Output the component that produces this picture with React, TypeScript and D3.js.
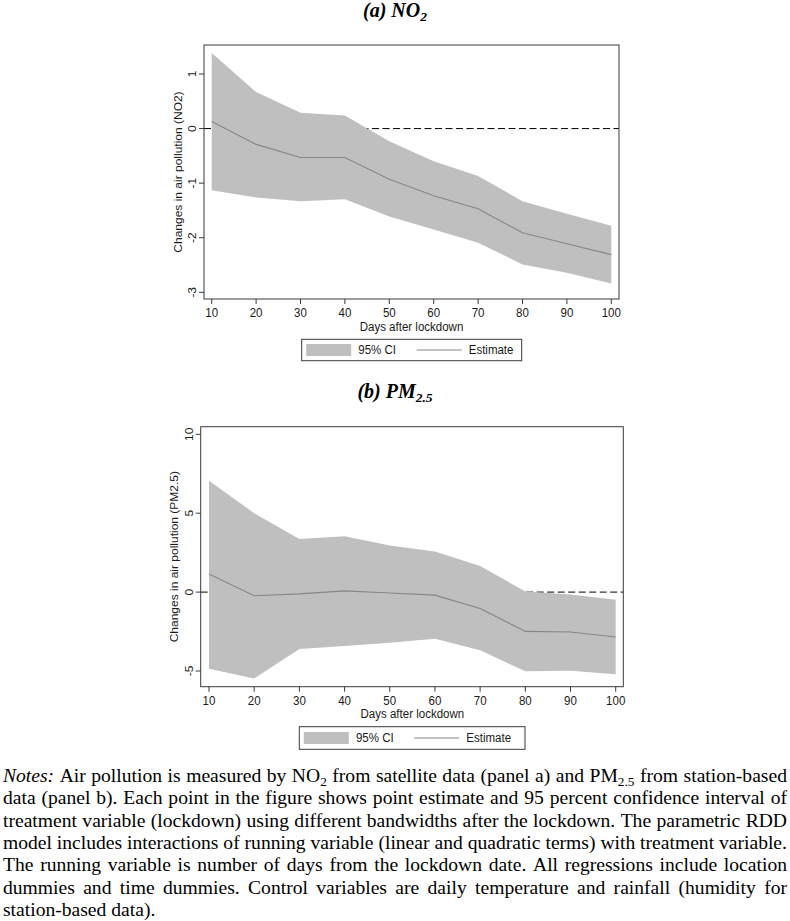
import React, { useMemo } from "react";
import * as d3 from "d3";

// ---------- DATA ----------
const days = [10, 20, 30, 40, 50, 60, 70, 80, 90, 100];
const xTicks = [10, 20, 30, 40, 50, 60, 70, 80, 90, 100];

const no2Estimate = [0.13, -0.29, -0.53, -0.53, -0.93, -1.23, -1.47, -1.91, -2.11, -2.31];
const no2Upper = [1.385, 0.67, 0.29, 0.24, -0.23, -0.6, -0.87, -1.33, -1.56, -1.78];
const no2Lower = [-1.13, -1.265, -1.33, -1.295, -1.61, -1.85, -2.09, -2.49, -2.64, -2.84];
const no2YTicks = [-3, -2, -1, 0, 1];

const pmEstimate = [1.14, -0.23, -0.11, 0.08, -0.06, -0.19, -1.04, -2.49, -2.53, -2.85];
const pmUpper = [7.06, 5.0, 3.37, 3.54, 2.95, 2.57, 1.66, 0.04, -0.15, -0.49];
const pmLower = [-4.85, -5.47, -3.61, -3.42, -3.21, -2.96, -3.69, -5.02, -4.98, -5.21];
const pmYTicks = [-5, 0, 5, 10];

const xTitle = "Days after lockdown";
const legendLabels = ["95% CI", "Estimate"];

const notesLines = [
  "*Notes:* Air pollution is measured by NO_2 from satellite data (panel a) and PM_2.5 from station-based",
  "data (panel b). Each point in the figure shows point estimate and 95 percent confidence interval of",
  "treatment variable (lockdown) using different bandwidths after the lockdown. The parametric RDD",
  "model includes interactions of running variable (linear and quadratic terms) with treatment variable.",
  "The running variable is number of days from the lockdown date. All regressions include location",
  "dummies and time dummies. Control variables are daily temperature and rainfall (humidity for",
  "station-based data).",
];

// ---------- STYLE ----------
const SANS = '"Liberation Sans", Arial, Helvetica, sans-serif';
const SERIF = '"Liberation Serif", "Times New Roman", serif';
const SQ = 0.96; // horizontal squeeze of chart text
const FRAME = "#3a3a3a";
const CI_FILL = "#bfbfbf";
const EST_COL = "#878787";
const TXT = "#1a1a1a";

type PanelCfg = {
  frame: { l: number; r: number; t: number; b: number };
  xRange: [number, number];
  yDomain: [number, number];
  yRange: [number, number];
  yTicks: number[];
  yTickLabelX: number;
  yTitleX: number;
  xTickLabelY: number;
  xTitleY: number;
  legend: { l: number; r: number; t: number; b: number };
  yTitle: string;
};

const panelA: PanelCfg = {
  frame: { l: 204, r: 619, t: 45, b: 299 },
  xRange: [211.7, 611.3],
  yDomain: [-3, 1],
  yRange: [292.3, 74],
  yTicks: no2YTicks,
  yTickLabelX: 191.7,
  yTitleX: 177.3,
  xTickLabelY: 316.5,
  xTitleY: 330.5,
  legend: { l: 301.7, r: 521.7, t: 339.3, b: 360.7 },
  yTitle: "Changes in air pollution (NO2)",
};

const panelB: PanelCfg = {
  frame: { l: 200.7, r: 623.3, t: 426.7, b: 686.7 },
  xRange: [209, 615.7],
  yDomain: [-5, 10],
  yRange: [671, 434.3],
  yTicks: pmYTicks,
  yTickLabelX: 188.3,
  yTitleX: 173.3,
  xTickLabelY: 704.5,
  xTitleY: 718,
  legend: { l: 299.3, r: 525, t: 726.7, b: 749.3 },
  yTitle: "Changes in air pollution (PM2.5)",
};

function Panel({ cfg, est, upper, lower }: { cfg: PanelCfg; est: number[]; upper: number[]; lower: number[] }) {
  const x = d3.scaleLinear().domain([10, 100]).range(cfg.xRange);
  const y = d3.scaleLinear().domain(cfg.yDomain).range(cfg.yRange);
  const idx = days.map((_, i) => i);
  const area = d3
    .area<number>()
    .x((i) => x(days[i]))
    .y0((i) => y(lower[i]))
    .y1((i) => y(upper[i]))(idx) as string;
  const line = d3
    .line<number>()
    .x((i) => x(days[i]))
    .y((i) => y(est[i]))(idx) as string;
  const f = cfg.frame;
  const lg = cfg.legend;
  const lgMid = (lg.t + lg.b) / 2;
  const fsz = 12;
  return (
    <g>
      {/* zero reference line (behind CI) */}
      <line x1={f.l} x2={f.r} y1={y(0)} y2={y(0)} stroke="#000" strokeWidth={1} strokeDasharray="7,3.5" />
      <path d={area} fill={CI_FILL} stroke="none" />
      <path d={line} fill="none" stroke={EST_COL} strokeWidth={1.1} />
      <rect x={f.l} y={f.t} width={f.r - f.l} height={f.b - f.t} fill="none" stroke={FRAME} strokeWidth={1} />
      {/* y ticks */}
      {cfg.yTicks.map((v) => (
        <g key={"y" + v}>
          <line x1={f.l - 5} x2={f.l} y1={y(v)} y2={y(v)} stroke={FRAME} strokeWidth={1} />
          <text
            transform={`translate(${cfg.yTickLabelX},${y(v)}) scale(${SQ},1) rotate(-90)`}
            textAnchor="middle"
            dominantBaseline="central"
            fontFamily={SANS}
            fontSize={fsz}
            fill={TXT}
          >
            {String(v)}
          </text>
        </g>
      ))}
      <text
        transform={`translate(${cfg.yTitleX},${(f.t + f.b) / 2}) scale(${SQ},1) rotate(-90)`}
        textAnchor="middle"
        dominantBaseline="central"
        fontFamily={SANS}
        fontSize={fsz}
        fill={TXT}
      >
        {cfg.yTitle}
      </text>
      {/* x ticks */}
      {xTicks.map((v) => (
        <g key={"x" + v}>
          <line x1={x(v)} x2={x(v)} y1={f.b} y2={f.b + 5} stroke={FRAME} strokeWidth={1} />
          <text
            transform={`translate(${x(v)},${cfg.xTickLabelY}) scale(${SQ},1)`}
            textAnchor="middle"
            fontFamily={SANS}
            fontSize={fsz}
            fill={TXT}
          >
            {String(v)}
          </text>
        </g>
      ))}
      <text
        transform={`translate(${(cfg.xRange[0] + cfg.xRange[1]) / 2},${cfg.xTitleY}) scale(${SQ},1)`}
        textAnchor="middle"
        fontFamily={SANS}
        fontSize={fsz}
        fill={TXT}
      >
        {xTitle}
      </text>
      {/* legend */}
      <rect x={lg.l} y={lg.t} width={lg.r - lg.l} height={lg.b - lg.t} fill="#fff" stroke={FRAME} strokeWidth={1} />
      <rect x={lg.l + 4.5} y={lgMid - 6} width={45} height={12} fill={CI_FILL} />
      <text transform={`translate(${lg.l + 56.6},${lgMid + 4.3}) scale(${SQ},1)`} fontFamily={SANS} fontSize={fsz} fill={TXT}>
        {legendLabels[0]}
      </text>
      <line x1={lg.l + 115} x2={lg.l + 160} y1={lgMid} y2={lgMid} stroke={EST_COL} strokeWidth={1} />
      <text transform={`translate(${lg.l + 167},${lgMid + 4.3}) scale(${SQ},1)`} fontFamily={SANS} fontSize={fsz} fill={TXT}>
        {legendLabels[1]}
      </text>
    </g>
  );
}

type Seg = { t: string; italic?: boolean; sub?: boolean };

function parseWord(w: string): Seg[] {
  if (w.startsWith("*") && w.endsWith("*")) return [{ t: w.slice(1, -1), italic: true }];
  const k = w.indexOf("_");
  if (k >= 0) return [{ t: w.slice(0, k) }, { t: w.slice(k + 1), sub: true }];
  return [{ t: w }];
}

function Notes() {
  const FS = 18.5;
  const SUBFS = FS * 0.68;
  const left = 3;
  const width = 784;
  const top = 782;
  const lh = 22.3;
  const layout = useMemo(() => {
    const canvas = document.createElement("canvas");
    const ctx = canvas.getContext("2d")!;
    const measure = (s: Seg) => {
      ctx.font = `${s.italic ? "italic " : ""}${s.sub ? SUBFS : FS}px ${SERIF}`;
      return ctx.measureText(s.t).width;
    };
    ctx.font = `${FS}px ${SERIF}`;
    const spaceW = ctx.measureText(" ").width;
    const lines = notesLines.map((ln) =>
      ln.split(" ").map((w) => {
        const segs = parseWord(w);
        const ws = segs.map(measure);
        return { segs, ws, w: ws.reduce((a, b) => a + b, 0) };
      })
    );
    const natural = (l: typeof lines[0]) => l.reduce((a, b) => a + b.w, 0) + spaceW * (l.length - 1);
    const sx = width / natural(lines[3]);
    const out = lines.map((l, li) => {
      const justify = li < lines.length - 1;
      const sum = l.reduce((a, b) => a + b.w, 0);
      const gap = justify ? (width / sx - sum) / (l.length - 1) : spaceW;
      let cx = 0;
      const items: { x: number; s: Seg }[] = [];
      l.forEach((wd) => {
        let sx2 = cx;
        wd.segs.forEach((s, si) => {
          items.push({ x: sx2, s });
          sx2 += wd.ws[si];
        });
        cx += wd.w + gap;
      });
      return items;
    });
    return { sx, out };
  }, []);
  return (
    <g>
      {layout.out.map((items, li) => (
        <g key={li} transform={`translate(${left},${top + li * lh}) scale(${layout.sx},1)`}>
          {items.map((it, k) => (
            <text
              key={k}
              x={it.x}
              y={it.s.sub ? FS * 0.22 : 0}
              fontFamily={SERIF}
              fontSize={it.s.sub ? SUBFS : FS}
              fontStyle={it.s.italic ? "italic" : "normal"}
              fill="#000"
            >
              {it.s.t}
            </text>
          ))}
        </g>
      ))}
    </g>
  );
}

function Title({ x, y, main, sub }: { x: number; y: number; main: string; sub: string }) {
  return (
    <text x={x} y={y} textAnchor="middle" fontFamily={SERIF} fontWeight="bold" fontStyle="italic" fontSize={20} fill="#000">
      {main}
      <tspan fontSize={13.5} dy={3.5}>
        {sub}
      </tspan>
    </text>
  );
}

export default function App() {
  return (
    <svg
      width={790}
      height={921}
      viewBox="0 0 790 921"
      style={{ position: "absolute", left: 0, top: 0, background: "#fff" }}
    >
      <rect x={0} y={0} width={790} height={921} fill="#fff" />
      <Title x={395} y={17} main="(a) NO" sub="2" />
      <Panel cfg={panelA} est={no2Estimate} upper={no2Upper} lower={no2Lower} />
      <Title x={395} y={398} main="(b) PM" sub="2.5" />
      <Panel cfg={panelB} est={pmEstimate} upper={pmUpper} lower={pmLower} />
      <Notes />
    </svg>
  );
}
